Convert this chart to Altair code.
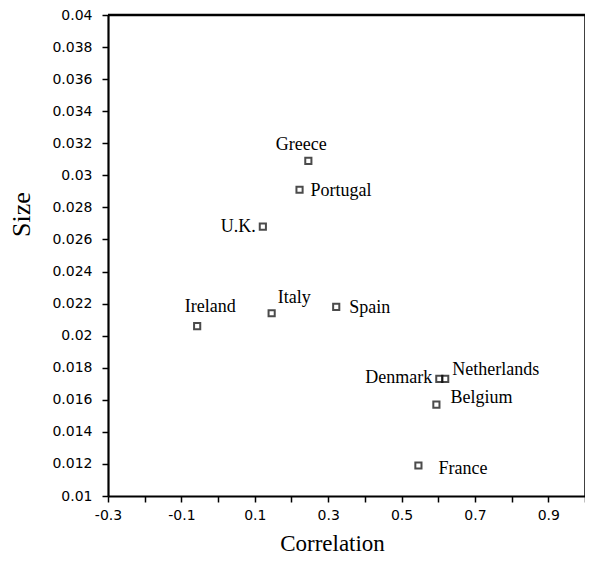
import altair as alt
import pandas as pd

# Data
countries = ["Greece", "Portugal", "U.K.", "Ireland", "Italy", "Spain",
             "Denmark", "Netherlands", "Belgium", "France"]
correlation = [0.246, 0.222, 0.122, -0.057, 0.146, 0.322, 0.603, 0.619, 0.595, 0.546]
size = [0.0309, 0.0291, 0.0268, 0.0206, 0.0214, 0.0218, 0.0173, 0.0173, 0.0157, 0.0119]

x_ticks = [-0.3, -0.2, -0.1, 0.0, 0.1, 0.2, 0.3, 0.4, 0.5, 0.6, 0.7, 0.8, 0.9, 1.0]
x_labels = ["-0.3", "", "-0.1", "", "0.1", "", "0.3", "", "0.5", "", "0.7", "", "0.9", ""]
y_ticks = [0.010, 0.012, 0.014, 0.016, 0.018, 0.020, 0.022, 0.024, 0.026, 0.028,
           0.030, 0.032, 0.034, 0.036, 0.038, 0.040]
y_labels = ["0.01", "0.012", "0.014", "0.016", "0.018", "0.02", "0.022", "0.024",
            "0.026", "0.028", "0.03", "0.032", "0.034", "0.036", "0.038", "0.04"]
x_max = 1.0
y_max = 0.04

# label placement (style, not data)
label_align = ["center", "left", "right", "center", "left", "left",
               "right", "left", "left", "left"]
label_dx = [-7, 11, -7, 13, 6, 13, -7, 7, 14, 20]
label_dy = [-11, 6, 5, -14, -10, 6, 4, -4, -2, 8]

df = pd.DataFrame({"country": countries, "corr": correlation, "size": size})
frame_df = pd.DataFrame({"k": [0]})


def label_expr(vals, labs):
    expr = "''"
    for v, l in reversed(list(zip(vals, labs))):
        expr = f"abs(datum.value - ({v})) < 1e-6 ? '{l}' : ({expr})"
    return expr


SANS = "DejaVu Sans"
SERIF = "Liberation Serif"

x_scale = alt.Scale(domain=[-0.3, 1.0], nice=False, zero=False)
y_scale = alt.Scale(domain=[0.01, 0.04], nice=False, zero=False)

x_axis = alt.Axis(
    values=x_ticks, labelExpr=label_expr(x_ticks, x_labels),
    title="Correlation", titleFont=SERIF, titleFontSize=23,
    titleFontWeight="normal", titleColor="black",
    titleX=224, titleY=54, titleAnchor="start", titleAlign="center",
    titleBaseline="alphabetic",
    labelFont=SANS, labelFontSize=14, labelColor="black", labelPadding=6,
    labelFlush=False, labelOverlap=False,
    domainColor="black", domainWidth=2.2, tickColor="black", tickWidth=1.5,
    tickSize=6, ticks=True, grid=False,
)
y_axis = alt.Axis(
    values=y_ticks, labelExpr=label_expr(y_ticks, y_labels),
    title="Size", titleFont=SERIF, titleFontSize=26,
    titleFontWeight="normal", titleColor="black",
    titleX=-79, titleY=199, titleAngle=270, titleAlign="center",
    titleBaseline="alphabetic",
    labelFont=SANS, labelFontSize=14, labelColor="black", labelPadding=10,
    labelFlush=False, labelOverlap=False,
    domainColor="black", domainWidth=2.2, tickColor="black", tickWidth=1.5,
    tickSize=6, ticks=True, grid=False,
)

x_enc = alt.X("corr:Q", scale=x_scale, axis=x_axis)
y_enc = alt.Y("size:Q", scale=y_scale, axis=y_axis)

points = alt.Chart(df).mark_point(
    shape="square", filled=False, size=38, strokeWidth=2, color="black"
).encode(x=x_enc, y=y_enc)

top_rule = alt.Chart(frame_df).mark_rule(color="black", strokeWidth=2.5).encode(
    y=alt.datum(y_max, scale=y_scale, axis=y_axis)
)
right_rule = alt.Chart(frame_df).mark_rule(color="black", strokeWidth=1.5).encode(
    x=alt.datum(x_max, scale=x_scale, axis=x_axis)
)

layers = [points, top_rule, right_rule]
for i, c in enumerate(countries):
    layers.append(
        alt.Chart(df[df["country"] == c]).mark_text(
            font=SERIF, fontSize=18, color="black", align=label_align[i],
            baseline="alphabetic", dx=label_dx[i], dy=label_dy[i]
        ).encode(x=x_enc, y=y_enc, text="country:N")
    )

chart = alt.layer(*layers).properties(
    width=477, height=481,
    background="white",
    autosize=alt.AutoSizeParams(type="none"),
    padding={"left": 100, "top": 7, "right": 0, "bottom": 61},
).configure_view(stroke=None).configure_axis(labelOverlap=False)

chart.save("out.html", embed_options={"renderer": "svg", "actions": False})
